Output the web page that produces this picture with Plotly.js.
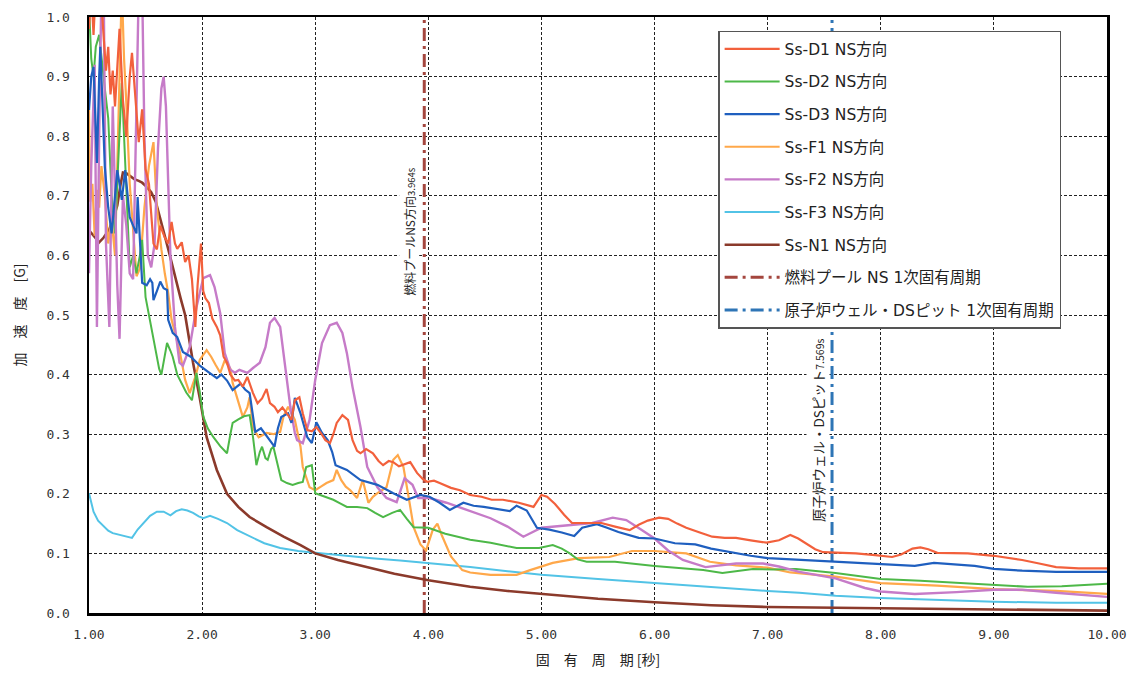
<!DOCTYPE html>
<html>
<head>
<meta charset="utf-8">
<script src="https://cdn.plot.ly/plotly-3.0.1.min.js"></script>
<style>
  html, body { margin: 0; padding: 0; background: #fff; }
  #chart { width: 1131px; height: 675px; }
</style>
</head>
<body>
<div id="chart"></div>
<script>
// 固有周期 [秒] と 加速度 [G] の応答スペクトル（NS方向）
const seriesNames = ['Ss-D1 NS方向', 'Ss-D2 NS方向', 'Ss-D3 NS方向', 'Ss-F1 NS方向',
                     'Ss-F2 NS方向', 'Ss-F3 NS方向', 'Ss-N1 NS方向'];
const poolLabel = '燃料プール NS 1次固有周期';
const wellLabel = '原子炉ウェル・DSピット 1次固有周期';
const poolPeriod = 3.964;
const wellPeriod = 7.569;
const xTicks = [1, 2, 3, 4, 5, 6, 7, 8, 9, 10];

const d1X = [1.00,1.02,1.04,1.06,1.10,1.13,1.15,1.17,1.19,1.21,1.23,1.27,1.30,1.33,1.36,1.38,1.41,1.44,1.47,1.50,1.53,1.57,1.60,1.63,1.67,1.70,1.73,1.76,1.78,1.82,1.85,1.88,1.91,1.94,1.96,1.99,2.01,2.03,2.06,2.09,2.13,2.16,2.19,2.22,2.25,2.29,2.32,2.36,2.40,2.45,2.49,2.53,2.57,2.60,2.64,2.67,2.71,2.75,2.79,2.82,2.86,2.89,2.93,2.97,3.01,3.05,3.09,3.13,3.16,3.19,3.24,3.29,3.33,3.37,3.40,3.45,3.51,3.56,3.60,3.65,3.69,3.74,3.79,3.84,3.90,3.95,3.99,4.05,4.10,4.20,4.28,4.37,4.47,4.56,4.66,4.80,4.93,5.00,5.05,5.12,5.20,5.27,5.40,5.53,5.65,5.78,5.86,5.94,6.04,6.12,6.20,6.28,6.40,6.51,6.62,6.72,6.85,6.99,7.10,7.20,7.27,7.34,7.42,7.49,7.60,7.78,7.95,8.10,8.18,8.28,8.35,8.42,8.50,8.77,9.00,9.25,9.40,9.55,9.75,10.00];
const d1Y = [0.98,1.05,0.97,1.05,1.05,0.96,0.91,0.95,0.87,0.91,0.85,0.98,0.86,0.80,0.90,0.94,0.86,0.79,0.845,0.745,0.72,0.62,0.61,0.65,0.63,0.62,0.656,0.62,0.611,0.622,0.589,0.60,0.56,0.48,0.55,0.62,0.54,0.528,0.52,0.494,0.48,0.466,0.43,0.42,0.40,0.39,0.391,0.38,0.396,0.369,0.352,0.36,0.376,0.352,0.346,0.337,0.345,0.335,0.324,0.357,0.362,0.335,0.307,0.305,0.312,0.302,0.29,0.285,0.30,0.319,0.332,0.324,0.29,0.272,0.268,0.275,0.268,0.255,0.248,0.255,0.253,0.246,0.25,0.253,0.235,0.225,0.22,0.222,0.218,0.21,0.206,0.198,0.195,0.19,0.19,0.185,0.178,0.198,0.195,0.183,0.165,0.151,0.151,0.151,0.145,0.139,0.148,0.155,0.16,0.158,0.15,0.143,0.135,0.128,0.126,0.126,0.122,0.118,0.122,0.131,0.125,0.117,0.107,0.102,0.101,0.10,0.097,0.094,0.098,0.108,0.11,0.107,0.101,0.10,0.096,0.089,0.083,0.077,0.075,0.075];

const d2X = [1.00,1.02,1.04,1.06,1.09,1.11,1.14,1.17,1.20,1.23,1.26,1.29,1.31,1.33,1.36,1.39,1.42,1.45,1.47,1.50,1.53,1.56,1.59,1.62,1.64,1.67,1.69,1.72,1.74,1.78,1.82,1.86,1.91,1.93,1.95,1.98,2.01,2.05,2.10,2.16,2.22,2.25,2.27,2.32,2.37,2.42,2.45,2.48,2.51,2.53,2.56,2.58,2.61,2.63,2.67,2.70,2.75,2.80,2.85,2.89,2.92,2.97,3.00,3.08,3.16,3.22,3.28,3.37,3.46,3.53,3.60,3.68,3.75,3.81,3.87,4.00,4.15,4.37,4.55,4.78,4.98,5.10,5.18,5.25,5.32,5.40,5.65,6.00,6.20,6.43,6.60,6.75,6.87,7.05,7.25,7.60,8.00,8.35,8.70,9.00,9.30,9.60,10.00];
const d2Y = [1.02,0.93,0.90,0.95,0.97,0.93,0.88,0.83,0.70,0.637,0.76,0.889,0.80,0.70,0.58,0.60,0.57,0.60,0.626,0.53,0.50,0.475,0.44,0.41,0.40,0.43,0.453,0.44,0.43,0.40,0.386,0.37,0.357,0.38,0.403,0.37,0.33,0.31,0.295,0.28,0.268,0.30,0.319,0.325,0.33,0.332,0.295,0.248,0.27,0.279,0.26,0.257,0.275,0.279,0.245,0.223,0.218,0.215,0.218,0.22,0.245,0.248,0.201,0.195,0.19,0.184,0.178,0.178,0.176,0.168,0.161,0.168,0.173,0.158,0.144,0.143,0.133,0.123,0.118,0.109,0.109,0.114,0.108,0.10,0.09,0.086,0.086,0.079,0.076,0.072,0.067,0.071,0.074,0.073,0.074,0.067,0.057,0.054,0.05,0.047,0.044,0.045,0.049];

const d3X = [1.00,1.02,1.04,1.06,1.07,1.09,1.10,1.12,1.14,1.17,1.20,1.23,1.25,1.27,1.29,1.32,1.34,1.36,1.39,1.42,1.43,1.45,1.47,1.51,1.54,1.56,1.57,1.60,1.63,1.66,1.69,1.70,1.74,1.78,1.83,1.90,1.98,2.05,2.13,2.17,2.22,2.27,2.34,2.38,2.42,2.45,2.47,2.52,2.56,2.60,2.64,2.67,2.70,2.76,2.79,2.82,2.87,2.93,2.97,3.01,3.06,3.11,3.15,3.18,3.28,3.40,3.55,3.69,3.81,3.93,4.01,4.10,4.19,4.31,4.40,4.49,4.60,4.72,4.78,4.87,4.96,5.07,5.18,5.29,5.36,5.49,5.58,5.68,5.86,6.00,6.18,6.36,6.50,6.66,6.85,7.00,7.20,7.60,8.00,8.30,8.47,8.65,8.83,9.00,9.25,9.55,10.00];
const d3Y = [0.844,0.90,0.916,0.80,0.755,0.90,0.95,0.85,0.748,0.68,0.637,0.70,0.743,0.72,0.693,0.743,0.70,0.664,0.65,0.637,0.698,0.62,0.554,0.55,0.56,0.554,0.525,0.54,0.556,0.545,0.542,0.492,0.47,0.463,0.438,0.43,0.415,0.405,0.394,0.40,0.39,0.374,0.385,0.375,0.369,0.33,0.304,0.31,0.299,0.29,0.279,0.31,0.329,0.335,0.319,0.361,0.335,0.295,0.285,0.32,0.302,0.29,0.27,0.248,0.24,0.223,0.215,0.201,0.19,0.198,0.195,0.185,0.173,0.185,0.18,0.178,0.175,0.171,0.18,0.172,0.143,0.14,0.135,0.129,0.143,0.149,0.143,0.136,0.126,0.125,0.117,0.115,0.108,0.102,0.096,0.092,0.09,0.086,0.082,0.079,0.084,0.081,0.079,0.074,0.071,0.069,0.069];

const f1X = [1.00,1.01,1.03,1.05,1.07,1.09,1.11,1.14,1.17,1.20,1.23,1.26,1.29,1.31,1.33,1.36,1.40,1.42,1.45,1.49,1.53,1.57,1.60,1.64,1.67,1.70,1.73,1.77,1.80,1.85,1.89,1.94,1.98,2.04,2.08,2.12,2.16,2.20,2.25,2.27,2.31,2.36,2.40,2.42,2.45,2.50,2.57,2.63,2.69,2.72,2.76,2.80,2.82,2.87,2.89,2.95,3.00,3.05,3.10,3.16,3.19,3.23,3.27,3.31,3.37,3.42,3.47,3.51,3.55,3.63,3.69,3.73,3.78,3.82,3.87,3.93,3.98,4.04,4.08,4.12,4.20,4.30,4.37,4.55,4.78,4.90,5.10,5.33,5.60,5.80,6.00,6.28,6.49,6.72,7.00,7.20,7.60,8.00,8.50,9.00,9.55,10.00];
const f1Y = [0.845,0.69,0.72,0.633,0.71,0.68,0.75,0.70,0.62,0.66,0.60,0.80,1.05,0.93,0.856,0.72,0.62,0.565,0.578,0.68,0.75,0.79,0.68,0.61,0.57,0.537,0.492,0.46,0.441,0.391,0.369,0.396,0.425,0.441,0.43,0.416,0.403,0.424,0.41,0.386,0.36,0.329,0.345,0.362,0.31,0.295,0.302,0.30,0.304,0.33,0.346,0.33,0.324,0.279,0.245,0.211,0.206,0.212,0.218,0.223,0.24,0.223,0.212,0.206,0.193,0.223,0.185,0.195,0.201,0.211,0.257,0.265,0.245,0.201,0.144,0.115,0.105,0.14,0.15,0.13,0.095,0.072,0.068,0.064,0.064,0.072,0.084,0.092,0.094,0.104,0.104,0.10,0.086,0.08,0.076,0.068,0.061,0.05,0.046,0.04,0.037,0.032];

const f2X = [1.00,1.02,1.05,1.07,1.09,1.11,1.13,1.15,1.18,1.21,1.23,1.25,1.27,1.30,1.33,1.36,1.39,1.42,1.44,1.47,1.49,1.52,1.55,1.58,1.61,1.64,1.66,1.68,1.70,1.72,1.76,1.80,1.83,1.89,1.95,2.01,2.07,2.11,2.16,2.20,2.25,2.29,2.33,2.40,2.45,2.51,2.56,2.60,2.64,2.69,2.73,2.78,2.82,2.84,2.89,2.95,3.00,3.06,3.13,3.19,3.24,3.28,3.33,3.40,3.46,3.55,3.63,3.72,3.79,3.86,3.91,4.01,4.16,4.34,4.55,4.70,4.84,5.00,5.25,5.45,5.63,5.75,5.88,6.00,6.12,6.25,6.45,6.72,6.96,7.10,7.28,7.60,7.86,8.00,8.30,8.67,9.00,9.25,9.55,10.00];
const f2Y = [0.57,0.75,0.92,0.48,0.80,1.05,1.05,0.62,0.48,0.85,0.70,0.55,0.46,0.70,0.65,0.57,0.56,0.85,1.05,1.05,0.80,0.60,0.58,0.62,0.78,0.88,0.90,0.85,0.70,0.597,0.48,0.42,0.415,0.446,0.513,0.562,0.567,0.547,0.503,0.436,0.408,0.403,0.408,0.403,0.411,0.42,0.446,0.487,0.495,0.48,0.42,0.346,0.302,0.29,0.285,0.324,0.391,0.453,0.483,0.487,0.47,0.436,0.379,0.312,0.245,0.211,0.193,0.186,0.226,0.215,0.193,0.193,0.185,0.173,0.159,0.145,0.128,0.143,0.148,0.151,0.16,0.156,0.14,0.125,0.105,0.089,0.077,0.083,0.083,0.078,0.069,0.058,0.042,0.036,0.032,0.035,0.039,0.039,0.034,0.027];

const f3X = [1.00,1.04,1.08,1.12,1.17,1.21,1.27,1.32,1.38,1.43,1.48,1.54,1.60,1.66,1.72,1.77,1.82,1.87,1.92,1.97,2.01,2.07,2.14,2.22,2.31,2.42,2.55,2.69,2.85,3.00,3.25,3.50,3.75,4.00,4.37,4.70,5.00,5.50,6.00,6.50,7.00,7.28,7.60,8.00,8.50,9.00,9.55,10.00];
const f3Y = [0.201,0.17,0.155,0.148,0.138,0.134,0.131,0.129,0.126,0.14,0.151,0.163,0.17,0.17,0.164,0.171,0.174,0.172,0.168,0.162,0.159,0.163,0.158,0.151,0.139,0.129,0.117,0.109,0.104,0.101,0.096,0.092,0.088,0.084,0.077,0.07,0.064,0.057,0.05,0.044,0.037,0.034,0.029,0.025,0.022,0.019,0.017,0.017];

const n1X = [1.00,1.04,1.09,1.13,1.18,1.22,1.25,1.28,1.30,1.33,1.37,1.40,1.44,1.47,1.51,1.55,1.59,1.62,1.66,1.70,1.74,1.77,1.81,1.85,1.87,1.92,1.98,2.04,2.13,2.22,2.32,2.42,2.57,2.72,2.87,3.00,3.20,3.40,3.70,4.00,4.37,4.70,5.00,5.50,6.00,6.50,7.00,7.50,8.00,9.00,10.00];
const n1Y = [0.642,0.633,0.622,0.63,0.644,0.665,0.684,0.72,0.739,0.738,0.732,0.728,0.725,0.722,0.715,0.706,0.69,0.667,0.64,0.611,0.58,0.556,0.528,0.50,0.475,0.42,0.36,0.295,0.24,0.20,0.178,0.161,0.144,0.128,0.114,0.10,0.089,0.08,0.066,0.055,0.044,0.037,0.032,0.024,0.018,0.013,0.01,0.009,0.007,0.006,0.004];

const seriesX = [d1X, d2X, d3X, f1X, f2X, f3X, n1X];
const seriesY = [d1Y, d2Y, d3Y, f1Y, f2Y, f3Y, n1Y];
const seriesColors = ['#F2603C', '#4DB848', '#1F5FBF', '#FFA84A', '#C67BC8', '#52C3E6', '#8B3A2B'];
const seriesWidths = [2.2, 2, 2.2, 2.2, 2.4, 2, 2.6];
// drawing order (later traces sit on top)
const drawOrder = [5, 6, 3, 1, 4, 2, 0];

const cjk = '"Noto Sans CJK JP", "Noto Sans", sans-serif';
const legendFont = '"DejaVu Sans", "Noto Sans CJK JP", sans-serif';

const traces = [];
// natural period markers
traces.push({
  x: [poolPeriod, poolPeriod], y: [0, 1], mode: 'lines', name: poolLabel,
  line: { color: '#A4463E', width: 3, dash: '13px,5px,3px,5px' },
  legendrank: 8, legendgroup: 'pool', hoverinfo: 'skip'
});
traces.push({
  x: [wellPeriod, wellPeriod], y: [0, 1], mode: 'lines', name: wellLabel,
  line: { color: '#2E75B6', width: 3, dash: '13px,5px,3px,5px' },
  legendrank: 9, legendgroup: 'well', hoverinfo: 'skip'
});
drawOrder.forEach(i => {
  traces.push({
    x: seriesX[i], y: seriesY[i], mode: 'lines', name: seriesNames[i],
    line: { color: seriesColors[i], width: seriesWidths[i] },
    legendrank: i + 1, legendgroup: 'g' + i
  });
});

const layout = {
  width: 1131, height: 675,
  margin: { l: 89, r: 24, t: 17, b: 62 },
  paper_bgcolor: '#fff', plot_bgcolor: '#fff',
  showlegend: true,
  legend: {
    x: 0.618, y: 0.977, xanchor: 'left', yanchor: 'top',
    bgcolor: '#fff', bordercolor: '#555', borderwidth: 1.5,
    font: { family: legendFont, size: 15.5, color: '#222' },
    tracegroupgap: 9.5, itemwidth: 55
  },
  xaxis: {
    range: [1, 10], tickvals: xTicks, tickformat: '.2f',
    showgrid: true, gridcolor: '#222', gridwidth: 1, griddash: '3px,2px',
    zeroline: false, showline: true, linecolor: '#000', linewidth: 2.5, mirror: true,
    ticks: '', ticklabelstandoff: 8,
    tickfont: { family: '"DejaVu Sans Mono", monospace', size: 13, color: '#333' },
    title: { text: '固　有　周　期 [秒]', font: { family: cjk, size: 14, color: '#222' }, standoff: 14 }
  },
  yaxis: {
    range: [0, 1], dtick: 0.1, tick0: 0, tickformat: '.1f',
    showgrid: true, gridcolor: '#222', gridwidth: 1, griddash: '3px,2px',
    zeroline: false, showline: true, linecolor: '#000', linewidth: 2.5, mirror: true,
    ticks: '', ticklabelstandoff: 14,
    tickfont: { family: '"DejaVu Sans Mono", monospace', size: 13, color: '#333' },
    title: { text: '加　速　度　[G]', font: { family: cjk, size: 14, color: '#222' }, standoff: 18 }
  },
  annotations: [
    {
      x: poolPeriod, y: 0.64, xref: 'x', yref: 'y', xshift: -15,
      text: '燃料プールNS方向<span style="font-size:9.5px">' + poolPeriod.toFixed(3) + 's</span>',
      textangle: -90, showarrow: false, bgcolor: '#fff',
      font: { family: cjk, size: 12, color: '#222' }
    },
    {
      x: wellPeriod, y: 0.307, xref: 'x', yref: 'y', xshift: -14,
      text: '原子炉ウェル・DSピット<span style="font-size:10.5px">' + wellPeriod.toFixed(3) + 's</span>',
      textangle: -90, showarrow: false, bgcolor: '#fff',
      font: { family: cjk, size: 13.5, color: '#222' }
    }
  ]
};

Plotly.newPlot('chart', traces, layout, { displayModeBar: false, staticPlot: true });
</script>
</body>
</html>
